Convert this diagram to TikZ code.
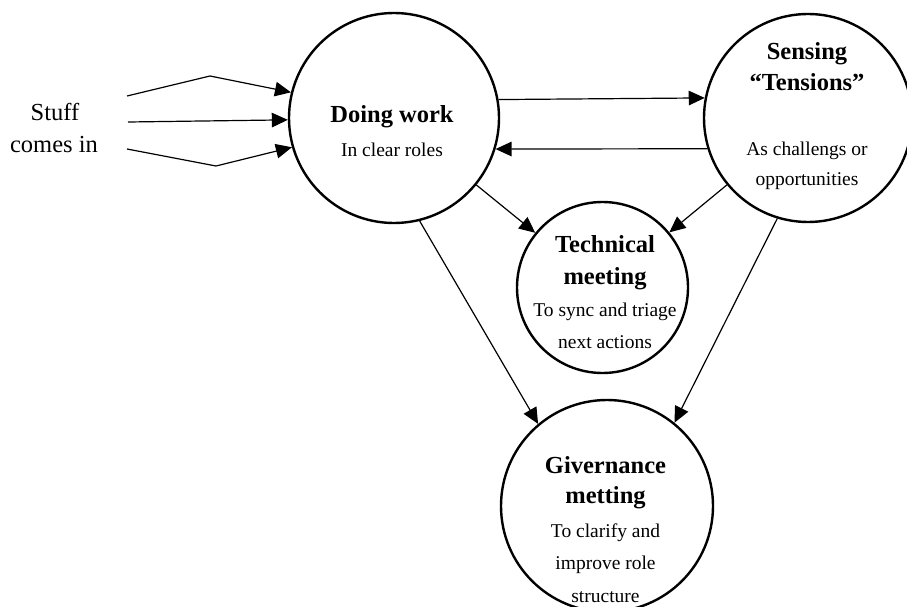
\documentclass[tikz,border=0pt]{standalone}
\usepackage{fontspec}
\setmainfont{Liberation Serif}
\usetikzlibrary{arrows.meta}
\begin{document}
\begin{tikzpicture}[x=1pt,y=-1pt,
  blob/.style={circle,draw,line width=2.4pt,inner sep=0pt,minimum size=#1},
  bt/.style={font=\fontsize{24.5}{29}\selectfont\bfseries,anchor=base,inner sep=0pt},
  rt/.style={font=\fontsize{19.5}{24}\selectfont,anchor=base,inner sep=0pt},
  st/.style={font=\fontsize{24.5}{29}\selectfont,anchor=base,inner sep=0pt},
  con/.style={line width=1.2pt,-{Triangle[length=16pt,width=14.5pt]}},
]
\clip (0,0) rectangle (907,607);
\fill[white] (0,0) rectangle (907,607);

% circles
\node[blob=210] (dw) at (394,118) {};
\node[blob=208] (se) at (808,118) {};
\node[blob=171] (tm) at (602.5,287.5) {};
\node[blob=212] (gm) at (607,506) {};

% texts
\node[st] (s1) at (55,121) {Stuff};
\node[st] (s2) at (54,152) {comes in};

\node[bt] (dw1) at (392,123) {Doing work};
\node[rt] (dw2) at (392,157) {In clear roles};

\node[bt] (se1) at (807,60) {Sensing};
\node[bt] (se2) at (807,91) {``Tensions''};
\node[rt] (se3) at (807,155) {As challengs or};
\node[rt] (se4) at (807,185) {opportunities};

\node[bt] (tm1) at (605,252) {Technical};
\node[bt] (tm2) at (605,284) {meeting};
\node[rt] (tm3) at (605,316) {To sync and triage};
\node[rt] (tm4) at (605,348) {next actions};

\node[bt] (gm1) at (605.5,473) {Givernance};
\node[bt] (gm2) at (605.5,503) {metting};
\node[rt] (gm3) at (605.5,537) {To clarify and};
\node[rt] (gm4) at (605.5,569) {improve role};
\node[rt] (gm5) at (605.5,602) {structure};

% incoming
\coordinate (i1a) at (127,96);
\coordinate (i1b) at (210,76);
\coordinate (i2a) at (128,122);
\coordinate (i3a) at (127,149);
\coordinate (i3b) at (216,166);
\draw[con] (i1a) -- (i1b) -- (dw.166);
\draw[con] (i2a) -- (dw.181.8);
\draw[con] (i3a) -- (i3b) -- (dw.196.5);

% connectors
\draw[con] (dw.10.4) -- (se.169.5);
\draw[con] (se.197.8) -- (dw.-17.7);
\draw[con] (dw) -- (tm);
\draw[con] (se) -- (tm);
\draw[con] (dw.-76) -- (gm.130);
\draw[con] (se.253.6) -- (gm.51);
\end{tikzpicture}
\end{document}
